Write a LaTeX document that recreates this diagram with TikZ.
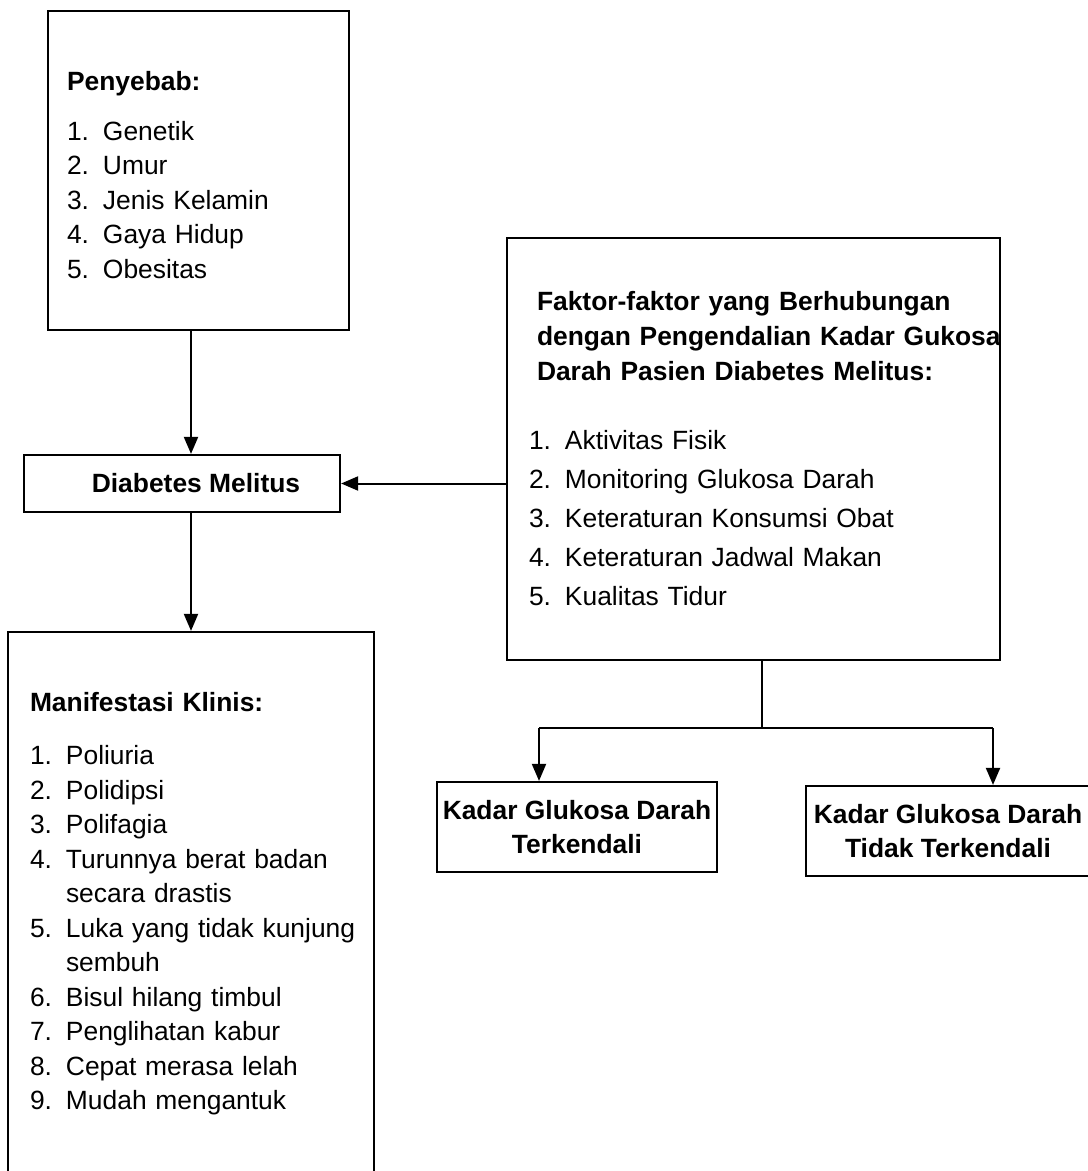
\documentclass[tikz,border=0pt]{standalone}
\usepackage{fontspec}
\setmainfont{Liberation Sans}
\usetikzlibrary{positioning}
\usetikzlibrary{arrows.meta}
\tikzset{edge/.style = {-{Triangle[length=8.5pt,width=7pt]}, line width=1pt}}
\newcommand{\nr}[2]{\mbox{\makebox[18pt][l]{#1}#2}}

\begin{document}
\begin{tikzpicture}[x=0.5pt,y=-0.5pt,
  box/.style={draw,line width=1.1pt,inner sep=0pt,font=\fontsize{13.2}{17.25}\selectfont},
  list box/.style={box,align=left,inner xsep=#1},
  head box/.style={box,align=center,font=\fontsize{13.2}{17}\selectfont\bfseries}]
  \useasboundingbox (0,0) rectangle (1087,1171);

  \node[list box=9.5pt, minimum width=150.5pt, minimum height=159.5pt, text width=131.5pt] (peny) at (198.5,170.5)
    {\rule{0pt}{13.7pt}\textbf{Penyebab:}\\[7.75pt]
     \nr{1.}{Genetik}\\ \nr{2.}{Umur}\\ \nr{3.}{Jenis Kelamin}\\ \nr{4.}{Gaya Hidup}\\ \nr{5.}{Obesitas}};

  \node[head box, minimum width=158pt, minimum height=28.5pt] (dm) at (182,483.5) {\hspace*{14pt}Diabetes Melitus};

  \node[list box=11pt, minimum width=183pt, minimum height=272pt, text width=161pt] (mk) at (191,904)
    {\textbf{Manifestasi Klinis:}\\[9.25pt]
     \nr{1.}{Poliuria}\\ \nr{2.}{Polidipsi}\\ \nr{3.}{Polifagia}\\
     \nr{4.}{Turunnya berat badan}\\ \nr{}{secara drastis}\\
     \nr{5.}{Luka yang tidak kunjung}\\ \nr{}{sembuh}\\
     \nr{6.}{Bisul hilang timbul}\\ \nr{7.}{Penglihatan kabur}\\
     \nr{8.}{Cepat merasa lelah}\\ \nr{9.}{Mudah mengantuk}};

  \node[list box=11pt, minimum width=246.5pt, minimum height=211pt, text width=224.5pt,
        font=\fontsize{13.2}{17.5}\selectfont] (fak) at (753.5,449)
    {\hspace*{4pt}\mbox{\textbf{Faktor-faktor yang Berhubungan}}\\
     \hspace*{4pt}\mbox{\textbf{dengan Pengendalian Kadar Gukosa}}\\
     \hspace*{4pt}\mbox{\textbf{Darah Pasien Diabetes Melitus:}}\\[17pt]
     \nr{1.}{Aktivitas Fisik}\\[2pt] \nr{2.}{Monitoring Glukosa Darah}\\[2pt]
     \nr{3.}{Keteraturan Konsumsi Obat}\\[2pt] \nr{4.}{Keteraturan Jadwal Makan}\\[2pt]
     \nr{5.}{Kualitas Tidur}};

  \node[head box, minimum width=140pt, minimum height=45pt] (kt) at (577,827)
    {Kadar Glukosa Darah\\Terkendali};
  \node[head box, minimum width=142pt, minimum height=45pt] (ktt) at (948,831)
    {Kadar Glukosa Darah\\Tidak Terkendali};

  \coordinate (split) at (762,728);
  \coordinate (splitL) at (539,728);
  \coordinate (splitR) at (993,728);

  \draw[edge] (peny.south -| mk.north) -- (dm.north -| mk.north);
  \draw[edge] (dm.south -| mk.north) -- (mk.north);
  \draw[edge] (fak.west |- dm.east) -- (dm.east);
  \draw[line width=0.6pt] (fak.south -| split) -- (split);
  \draw[line width=0.8pt] (splitL) -- (splitR);
  \draw[edge] (splitL) -- (splitL |- kt.north);
  \draw[edge] (splitR) -- (splitR |- ktt.north);
\end{tikzpicture}
\end{document}
